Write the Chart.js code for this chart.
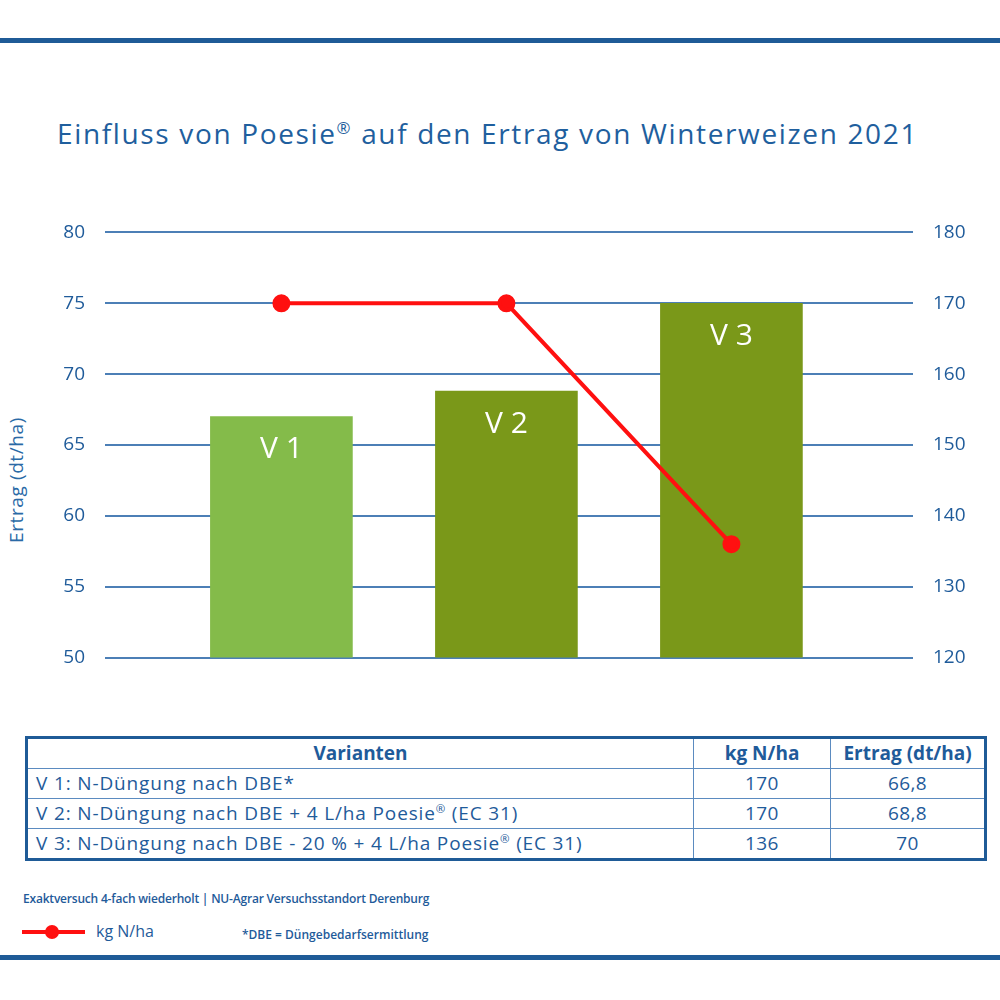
<!DOCTYPE html>
<html>
<head>
<meta charset="utf-8">
<script src="https://cdn.jsdelivr.net/npm/chart.js@4.4.1/dist/chart.umd.min.js"></script>
<style>
	body { margin: 0; background: #fff; font-family: 'Open Sans', sans-serif; color: #1f5b9a; }
	#page { position: relative; width: 1000px; height: 1000px; overflow: hidden; }
	.rule { position: absolute; left: 0; width: 1000px; height: 5px; background: #1f5b97; }
	.reg { font-size: 0.6em; vertical-align: 0.6em; line-height: 0; }
	#title { position: absolute; left: 57px; top: 114px; font-size: 28px; letter-spacing: 1.65px; color: #1f5f9e; white-space: nowrap; }
	#yTitle { position: absolute; left: 16px; top: 480px; transform: translate(-50%, -50%) rotate(-90deg); font-size: 19px; letter-spacing: 0.6px; white-space: nowrap; color: #2a6aa6; }
	#chartBox { position: absolute; left: 0; top: 201px; width: 1000px; height: 488px; }
	table { position: absolute; left: 25px; top: 736px; width: 962px; border-collapse: collapse; border: 3px solid #1f5b97; font-size: 19px; color: #1f5b9a; }
	td, th { border: 1.5px solid #5b8bc0; height: 29px; padding: 0 8px; line-height: 1; }
	td { letter-spacing: 0.85px; }
	th { font-weight: 700; text-align: center; }
	td.num { text-align: center; letter-spacing: 0.4px; }
	#note { position: absolute; left: 23px; top: 890px; font-size: 12px; font-weight: 600; white-space: nowrap; letter-spacing: -0.2px; }
	#legend { position: absolute; left: 22px; top: 920px; height: 24px; }
	#legend .line { position: absolute; left: 0; top: 10px; width: 63px; height: 4px; background: #ff1010; }
	#legend .dot { position: absolute; left: 23px; top: 5px; width: 14px; height: 14px; border-radius: 50%; background: #ff1010; }
	#legend .txt { position: absolute; left: 74px; top: 0; font-size: 16px; white-space: nowrap; }
	#dbe { position: absolute; left: 242px; top: 926px; font-size: 12px; font-weight: 600; white-space: nowrap; letter-spacing: 0; }
</style>
</head>
<body>
<div id="page">
	<div class="rule" style="top: 38px"></div>
	<div id="title">Einfluss von Poesie<span class="reg">®</span> auf den Ertrag von Winterweizen 2021</div>
	<div id="yTitle">Ertrag (dt/ha)</div>
	<div id="chartBox"><canvas id="yieldChart"></canvas></div>
	<table>
		<tr><th style="width: 649px">Varianten</th><th style="width: 120px">kg N/ha</th><th>Ertrag (dt/ha)</th></tr>
		<tr><td>V 1: N-Düngung nach DBE*</td><td class="num">170</td><td class="num">66,8</td></tr>
		<tr><td>V 2: N-Düngung nach DBE + 4 L/ha Poesie<span class="reg">®</span> (EC 31)</td><td class="num">170</td><td class="num">68,8</td></tr>
		<tr><td>V 3: N-Düngung nach DBE - 20 % + 4 L/ha Poesie<span class="reg">®</span> (EC 31)</td><td class="num">136</td><td class="num">70</td></tr>
	</table>
	<div id="note">Exaktversuch 4-fach wiederholt | NU-Agrar Versuchsstandort Derenburg</div>
	<div id="legend"><div class="line"></div><div class="dot"></div><div class="txt">kg N/ha</div></div>
	<div id="dbe">*DBE = Düngebedarfsermittlung</div>
	<div class="rule" style="top: 955px"></div>
</div>
<script>
const categories = ['V 1', 'V 2', 'V 3']
const yieldValues = [67, 68.8, 75]
const nitrogenValues = [170, 170, 136]
const leftTicks = [50, 55, 60, 65, 70, 75, 80]
const rightTicks = [120, 130, 140, 150, 160, 170, 180]

const barColors = ['#84bb4a', '#7a9819', '#7a9819']
const blue = '#1f5b9a'

// writes "V 1", "V 2", ... into the top of each bar
const barLabels = {
	id: 'barLabels',
	afterDatasetsDraw(chart) {
		const meta = chart.getDatasetMeta(1)
		const ctx = chart.ctx
		ctx.save()
		ctx.fillStyle = '#ffffff'
		ctx.font = '30px "Open Sans"'
		ctx.textAlign = 'center'
		ctx.textBaseline = 'middle'
		meta.data.forEach((bar, i) => {
			ctx.fillText(categories[i], bar.x, bar.y + 33)
		})
		ctx.restore()
	}
}

const tickFont = { family: 'Open Sans', size: 19 }

new Chart(document.getElementById('yieldChart'), {
	type: 'bar',
	data: {
		datasets: [
			{
				type: 'line',
				label: 'kg N/ha',
				data: nitrogenValues.map((v, i) => ({ x: i, y: v })),
				yAxisID: 'y1',
				borderColor: '#ff1010',
				backgroundColor: '#ff1010',
				borderWidth: 4,
				pointRadius: 7,
				pointHoverRadius: 7,
				order: 0
			},
			{
				label: 'Ertrag (dt/ha)',
				data: yieldValues.map((v, i) => ({ x: i, y: v })),
				yAxisID: 'y',
				backgroundColor: barColors,
				barThickness: 142,
				order: 1
			}
		]
	},
	options: {
		responsive: true,
		maintainAspectRatio: false,
		animation: false,
		layout: { padding: { top: 20, bottom: 20, left: 0, right: 0 } },
		plugins: { legend: { display: false }, tooltip: { enabled: false } },
		scales: {
			x: { type: 'linear', min: -0.784, max: 2.807, offset: false, display: false },
			y: {
				position: 'left',
				min: leftTicks[0],
				max: leftTicks[leftTicks.length - 1],
				afterFit: (scale) => { scale.width = 105 },
				afterBuildTicks: (scale) => { scale.ticks = leftTicks.map((v) => ({ value: v })) },
				border: { display: false },
				grid: { color: '#4c7fb6', lineWidth: 2, drawTicks: false },
				ticks: { color: blue, font: tickFont, padding: 20 }
			},
			y1: {
				position: 'right',
				min: rightTicks[0],
				max: rightTicks[rightTicks.length - 1],
				afterFit: (scale) => { scale.width = 87 },
				afterBuildTicks: (scale) => { scale.ticks = rightTicks.map((v) => ({ value: v })) },
				border: { display: false },
				grid: { display: false, drawTicks: false },
				ticks: { color: blue, font: tickFont, padding: 20 }
			}
		}
	},
	plugins: [barLabels]
})
</script>
</body>
</html>
